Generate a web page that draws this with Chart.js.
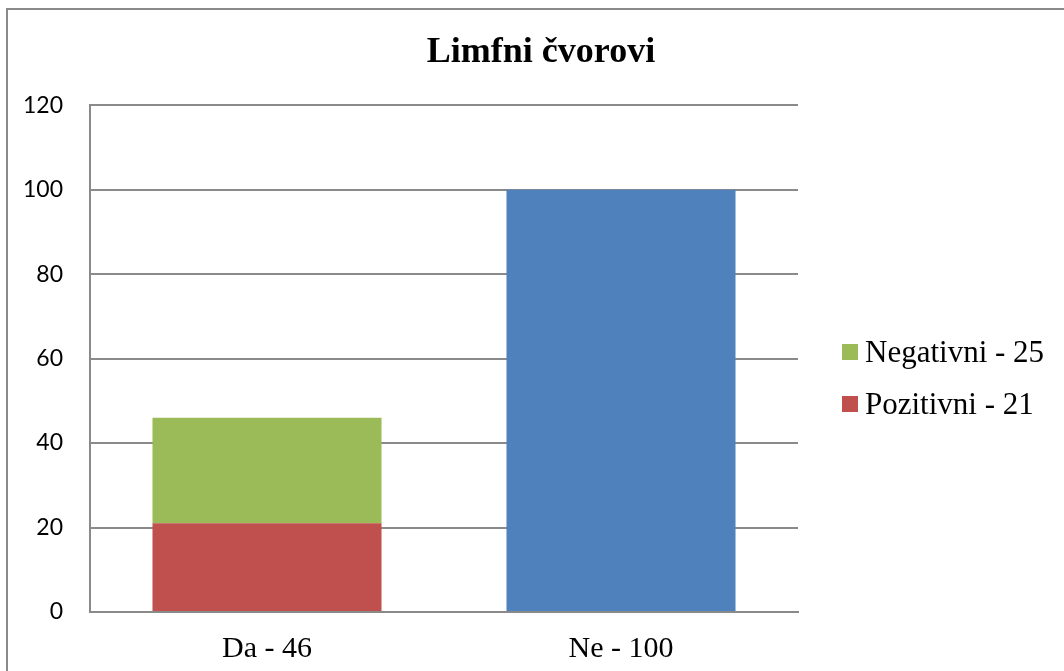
<!DOCTYPE html>
<html>
<head>
<meta charset="utf-8">
<script src="https://cdn.jsdelivr.net/npm/chart.js@4"></script>
<style>
  html, body { margin: 0; padding: 0; background: #fff; overflow: hidden; }
  #wrap { position: relative; width: 1064px; height: 671px; }
  #frame { position: absolute; left: 6px; top: 8px; width: 1100px; height: 700px;
           border: 2px solid #8a8a8a; box-sizing: border-box; pointer-events: none; }
  #legend { position: absolute; left: 842px; top: 0; font-family: 'Liberation Serif', 'Times New Roman', serif;
            font-size: 31px; color: #000; }
  .item { position: absolute; left: 0; height: 36px; display: flex; align-items: center; white-space: nowrap; }
  .box { width: 16px; height: 16px; margin-right: 7px; flex: none; }
</style>
</head>
<body>
<div id="wrap">
  <canvas id="chart" width="1064" height="671"></canvas>
  <div id="frame"></div>
  <div id="legend"></div>
</div>
<script>
// Limfni čvorovi – stupci: Da (pozitivni + negativni složeno), Ne (ukupno)
const CATEGORIES = ['Da - 46', 'Ne - 100'];
const POZITIVNI  = [21, null];
const NEGATIVNI  = [25, null];
const NE_UKUPNO  = [null, 100];
const Y_MIN = 0, Y_MAX = 120, Y_STEP = 20;

const SERIES = [
  { label: 'Pozitivni - 21', data: POZITIVNI, color: '#C0504D', legend: true },
  { label: 'Negativni - 25', data: NEGATIVNI, color: '#9BBB59', legend: true },
  { label: 'Ne - 100',       data: NE_UKUPNO, color: '#4F81BD', legend: false },
];

const GRID = '#8a8a8a';

new Chart(document.getElementById('chart'), {
  type: 'bar',
  data: {
    labels: CATEGORIES,
    datasets: SERIES.map(s => ({
      label: s.label, data: s.data, backgroundColor: s.color,
      borderWidth: 0, barPercentage: 0.647, categoryPercentage: 1,
    })),
  },
  options: {
    responsive: false,
    animation: false,
    layout: { padding: { left: 18, top: 0, right: 0, bottom: 0 } },
    plugins: {
      legend: { display: false },
      tooltip: { enabled: false },
      title: {
        display: true, text: 'Limfni čvorovi', color: '#000',
        font: { family: "'Liberation Serif', 'Times New Roman', serif", size: 36, weight: 'bold' },
        padding: { top: 31, bottom: 31 },
      },
    },
    scales: {
      x: {
        stacked: true,
        afterFit: s => { s.height = 59; },
        grid: { display: false, drawTicks: false },
        border: { display: true, color: GRID, width: 2 },
        ticks: { color: '#000', padding: 19,
                 font: { family: "'Liberation Serif', 'Times New Roman', serif", size: 30 } },
      },
      y: {
        stacked: true, min: Y_MIN, max: Y_MAX,
        afterFit: s => { s.width = 72; },
        grid: { color: GRID, lineWidth: 2, drawTicks: false },
        border: { display: true, color: GRID, width: 2 },
        ticks: { stepSize: Y_STEP, color: '#000', padding: 27,
                 font: { family: 'Lato, Carlito, sans-serif', size: 23 } },
      },
      // prazan prostor desno za legendu
      side: {
        position: 'right', display: true,
        afterFit: s => { s.width = 266; },
        grid: { display: false }, border: { display: false }, ticks: { display: false },
      },
    },
  },
});

// legenda (samo složeni stupac, gornji segment prvi)
const legendEl = document.getElementById('legend');
SERIES.filter(s => s.legend).reverse().forEach((s, i) => {
  const row = document.createElement('div');
  row.className = 'item';
  row.style.top = (334 + i * 52) + 'px';
  row.innerHTML = `<span class="box" style="background:${s.color}"></span><span>${s.label}</span>`;
  legendEl.appendChild(row);
});
</script>
</body>
</html>
